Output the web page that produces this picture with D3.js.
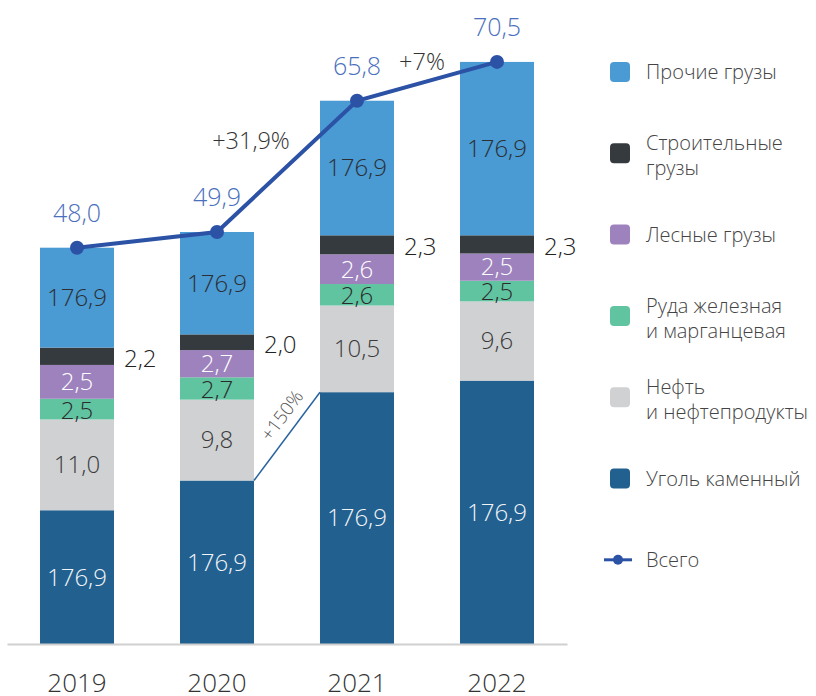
<!DOCTYPE html>
<html>
<head>
<meta charset="utf-8">
<script src="https://cdn.jsdelivr.net/npm/d3@7"></script>
<style>
  body { margin: 0; background: #fff; }
  svg text { font-family: "Open Sans", "Noto Sans", sans-serif; font-weight: 300; }
</style>
</head>
<body>
<div id="chart"></div>
<script>
(() => {
  // years and stacked series (bottom to top)
  var years = ["2019", "2020", "2021", "2022"];
  var seriesNames = ["Уголь каменный", "Нефть\nи нефтепродукты", "Руда железная\nи марганцевая", "Лесные грузы", "Строительные\nгрузы", "Прочие грузы"];
  var seriesColors = ["#21608f", "#d0d1d3", "#60c4a1", "#9e82bd", "#353a3e", "#4a9ad4"];
  var labelColors = ["#f2f4f7", "#3a3a3a", "#2b2b2b", "#ffffff", "#222222", "#2b2f33"];

  var coal = [16.2, 19.8, 30.5, 31.9];
  var oil = [11.0, 9.8, 10.5, 9.6];
  var ore = [2.5, 2.7, 2.6, 2.5];
  var timber = [4.1, 3.3, 3.6, 3.3];
  var construction = [2.1, 1.9, 2.3, 2.2];
  var other = [12.1, 12.4, 16.3, 21.0];

  // printed labels (as in source)
  var coalLabels = ["176,9", "176,9", "176,9", "176,9"];
  var oilLabels = ["11,0", "9,8", "10,5", "9,6"];
  var oreLabels = ["2,5", "2,7", "2,6", "2,5"];
  var timberLabels = ["2,5", "2,7", "2,6", "2,5"];
  var constructionLabels = ["2,2", "2,0", "2,3", "2,3"];
  var otherLabels = ["176,9", "176,9", "176,9", "176,9"];

  var totals = [48.0, 49.9, 65.8, 70.5];
  var growthLabels = ["+31,9%", "+7%"];
  var coalGrowthLabel = "+150%";

  var series = [coal, oil, ore, timber, construction, other];
  var seriesLabels = [coalLabels, oilLabels, oreLabels, timberLabels, constructionLabels, otherLabels];

  var width = 816, height = 696;

  var svg = d3.select('#chart').append('svg')
    .attr('width', width)
    .attr('height', height);

  var x = d3.scaleBand().domain(years).range([7, 567])
    .paddingInner(0.4714).paddingOuter(0.2357);
  var y = d3.scaleLinear().domain([0, 78]).range([644, 0]);

  var table = years.map((yr, i) => {
    var row = { year: yr };
    series.forEach((s, k) => row["s" + k] = s[i]);
    return row;
  });
  var keys = series.map((s, k) => "s" + k);
  var stacked = d3.stack().keys(keys)(table);

  // bars
  var layers = svg.selectAll('g.layer')
    .data(stacked)
    .enter().append('g')
    .attr('class', 'layer')
    .attr('fill', (d, k) => seriesColors[k]);

  layers.selectAll('rect')
    .data(d => d)
    .enter().append('rect')
    .attr('x', d => x(d.data.year))
    .attr('y', d => y(d[1]))
    .attr('width', x.bandwidth())
    .attr('height', d => y(d[0]) - y(d[1]));

  // segment labels
  stacked.forEach((layer, k) => {
    svg.append('g').selectAll('text')
      .data(layer)
      .enter().append('text')
      .attr('x', (d, i) => k === 4 ? x(d.data.year) + x.bandwidth() + 10 : x(d.data.year) + x.bandwidth() / 2)
      .attr('y', (d, i) => (y(d[0]) + y(d[1])) / 2 + (k === 4 ? 2 : 0) + (k === 2 ? 1 : 0))
      .attr('dy', '0.35em')
      .attr('text-anchor', k === 4 ? 'start' : 'middle')
      .attr('font-size', 24)
      .attr('fill', labelColors[k])
      .text((d, i) => seriesLabels[k][i]);
  });

  // coal growth connector 2020 -> 2021
  var x0 = x("2020") + x.bandwidth(), y0 = y(coal[1]);
  var x1 = x("2021"), y1 = y(coal[2]);
  svg.append('line')
    .attr('x1', x0).attr('y1', y0).attr('x2', x1).attr('y2', y1)
    .attr('stroke', '#2a64a0').attr('stroke-width', 1.5);
  var ang = Math.atan2(y1 - y0, x1 - x0) * 180 / Math.PI;
  svg.append('text')
    .attr('transform', 'translate(' + ((x0 + x1) / 2 - 5) + ',' + ((y0 + y1) / 2 - 21) + ') rotate(' + ang + ')')
    .attr('text-anchor', 'middle')
    .attr('dy', '0.35em')
    .attr('font-size', 18.5)
    .attr('fill', '#555')
    .text(coalGrowthLabel);

  // axis
  var axis = svg.append('g')
    .attr('transform', 'translate(0,644)')
    .call(d3.axisBottom(x).tickSize(0).tickPadding(30));
  axis.select('.domain').attr('stroke', '#d0d0d0').attr('stroke-width', 2);
  axis.selectAll('text')
    .attr('font-size', 26)
    .attr('fill', '#333')
    .style('font-family', '"Open Sans", "Noto Sans", sans-serif')
    .style('font-weight', 300);

  // total line
  var cx = yr => x(yr) + x.bandwidth() / 2;
  var line = d3.line().x((d, i) => cx(years[i])).y(d => y(d));
  svg.append('path')
    .datum(totals)
    .attr('d', line)
    .attr('fill', 'none')
    .attr('stroke', '#2c52a6')
    .attr('stroke-width', 4);
  svg.selectAll('circle.tot')
    .data(totals)
    .enter().append('circle')
    .attr('class', 'tot')
    .attr('cx', (d, i) => cx(years[i]))
    .attr('cy', d => y(d))
    .attr('r', 7)
    .attr('fill', '#2c52a6');

  svg.selectAll('text.tot')
    .data(totals)
    .enter().append('text')
    .attr('class', 'tot')
    .attr('x', (d, i) => cx(years[i]))
    .attr('y', d => y(d) - 26)
    .attr('text-anchor', 'middle')
    .attr('font-size', 25)
    .attr('fill', '#4a6fbd')
    .text(d => d3.format('.1f')(d).replace('.', ','));

  // growth labels
  var growthOffsets = [[-36, -26], [-5, -20]];
  growthLabels.forEach((g, i) => {
    var mx = (cx(years[i + 1]) + cx(years[i + 2])) / 2;
    var my = (y(totals[i + 1]) + y(totals[i + 2])) / 2;
    svg.append('text')
      .attr('x', mx + growthOffsets[i][0])
      .attr('y', my + growthOffsets[i][1])
      .attr('dy', '0.35em')
      .attr('text-anchor', 'middle')
      .attr('font-size', 23.5)
      .attr('fill', '#333')
      .text(g);
  });

  // legend (top to bottom)
  var legendItems = seriesNames.map((n, k) => ({ name: n, color: seriesColors[k] })).reverse();
  legendItems.push({ name: "Всего", color: "#2c52a6", line: true });

  var leg = svg.append('g').selectAll('g')
    .data(legendItems)
    .enter().append('g')
    .attr('transform', (d, i) => 'translate(610,' + (72 + i * 81.3) + ')');

  leg.filter(d => !d.line).append('rect')
    .attr('x', 0).attr('y', -10)
    .attr('width', 20).attr('height', 20)
    .attr('rx', 4)
    .attr('fill', d => d.color);
  leg.filter(d => d.line).append('line')
    .attr('x1', -6).attr('x2', 22).attr('y1', 0).attr('y2', 0)
    .attr('stroke', d => d.color).attr('stroke-width', 3);
  leg.filter(d => d.line).append('circle')
    .attr('cx', 8).attr('cy', 0).attr('r', 5)
    .attr('fill', d => d.color);

  leg.each(function (d) {
    var lines = d.name.split('\n');
    var t = d3.select(this).append('text')
      .attr('x', 36)
      .attr('font-size', 20)
      .attr('fill', '#444');
    lines.forEach((l, j) => {
      t.append('tspan')
        .attr('x', 36)
        .attr('y', lines.length > 1 ? (j === 0 ? -10 : 15) : 0)
        .attr('dy', '0.35em')
        .text(l);
    });
  });
})();
</script>
</body>
</html>
